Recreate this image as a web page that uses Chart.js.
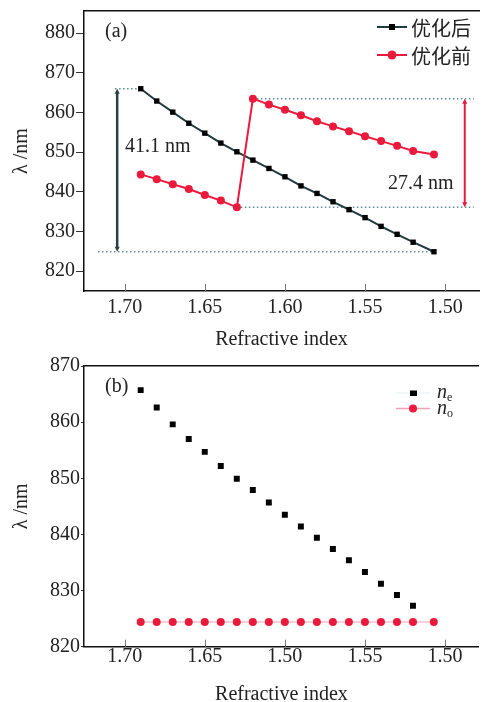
<!DOCTYPE html>
<html lang="zh">
<head>
<meta charset="UTF-8">
<title>Refractive index vs wavelength</title>
<script src="https://cdn.jsdelivr.net/npm/chart.js"></script>
<style>
  body { margin: 0; background: #fff; }
  canvas { position: absolute; left: 0; }
</style>
</head>
<body>
<canvas id="chartA" width="483" height="355" style="top:0"></canvas>
<canvas id="chartB" width="483" height="347" style="top:355px"></canvas>
<script>
// ---- data ----
// panel (a)
const indexA = [1.69, 1.68, 1.67, 1.66, 1.65, 1.64, 1.63, 1.62, 1.61, 1.60, 1.59, 1.58, 1.57, 1.56, 1.55, 1.54, 1.53, 1.52, 1.507];
const afterOpt = [866.0, 862.9, 860.1, 857.3, 854.8, 852.3, 850.1, 848.0, 845.9, 843.8, 841.5, 839.6, 837.5, 835.5, 833.5, 831.3, 829.3, 827.3, 824.9];
const beforeOpt = [844.4, 843.2, 841.9, 840.7, 839.2, 837.8, 836.1, 863.5, 862.0, 860.7, 859.3, 857.8, 856.5, 855.3, 854.0, 852.8, 851.6, 850.3, 849.4];
// panel (b)
const indexE = [1.69, 1.68, 1.67, 1.66, 1.65, 1.64, 1.63, 1.62, 1.61, 1.60, 1.59, 1.58, 1.57, 1.56, 1.55, 1.54, 1.53, 1.52];
const nE = [865.7, 862.6, 859.6, 857.0, 854.7, 852.2, 849.9, 847.9, 845.7, 843.5, 841.4, 839.4, 837.4, 835.4, 833.3, 831.2, 829.2, 827.3];
const indexO = [1.69, 1.68, 1.67, 1.66, 1.65, 1.64, 1.63, 1.62, 1.61, 1.60, 1.59, 1.58, 1.57, 1.56, 1.55, 1.54, 1.53, 1.52, 1.507];
const nO = [824.4, 824.4, 824.4, 824.4, 824.4, 824.4, 824.4, 824.4, 824.4, 824.4, 824.4, 824.4, 824.4, 824.4, 824.4, 824.4, 824.4, 824.4, 824.4];
// ticks
const xTicks = [1.70, 1.65, 1.60, 1.55, 1.50];
const xLabelsA = ['1.70', '1.65', '1.60', '1.55', '1.50'];
const xLabelsB = ['1.70', '1.65', '1.50', '1.55', '1.50'];
const yTicksA = [820, 830, 840, 850, 860, 870, 880];
const yTicksB = [820, 830, 840, 850, 860, 870];

const SERIF = '"Liberation Serif", "Times New Roman", serif';
const CJK = '"Noto Sans CJK SC", sans-serif';
const BLACK_LINE = '#1f3b3d';
const RED = '#ea1a3c';
const DOTS = '#5b8d92';

const pts = (xs, ys) => xs.map((x, i) => ({ x: x, y: ys[i] }));

// inward tick marks on the x axis
const innerTicks = {
  id: 'innerTicks',
  afterDatasetsDraw(chart) {
    const { ctx, chartArea } = chart;
    const sx = chart.scales.x;
    ctx.save();
    ctx.strokeStyle = '#777';
    ctx.lineWidth = 1;
    sx.ticks.forEach(t => {
      const px = Math.round(sx.getPixelForValue(t.value)) + 0.5;
      ctx.beginPath();
      ctx.moveTo(px, chartArea.bottom);
      ctx.lineTo(px, chartArea.bottom - 7);
      ctx.stroke();
    });
    ctx.restore();
  }
};

function arrow(ctx, x, y1, y2, color, width) {
  ctx.strokeStyle = color;
  ctx.fillStyle = color;
  ctx.lineWidth = width;
  ctx.setLineDash([]);
  ctx.beginPath();
  ctx.moveTo(x, y1 + 3);
  ctx.lineTo(x, y2 - 3);
  ctx.stroke();
  [[y1, 1], [y2, -1]].forEach(([y, d]) => {
    ctx.beginPath();
    ctx.moveTo(x, y);
    ctx.lineTo(x - 2.5, y + d * 5);
    ctx.lineTo(x + 2.5, y + d * 5);
    ctx.closePath();
    ctx.fill();
  });
}

function dotted(ctx, x1, x2, y) {
  ctx.strokeStyle = DOTS;
  ctx.lineWidth = 1.5;
  ctx.setLineDash([1.5, 2.5]);
  ctx.beginPath();
  ctx.moveTo(x1, y);
  ctx.lineTo(x2, y);
  ctx.stroke();
}

// shift markers and labels of panel (a)
const shiftMarks = {
  id: 'shiftMarks',
  beforeDatasetsDraw(chart) {
    const { ctx } = chart;
    const sx = chart.scales.x, sy = chart.scales.y;
    const bTop = Math.max(...afterOpt), bLow = Math.min(...afterOpt);
    const rTop = Math.max(...beforeOpt), rLow = Math.min(...beforeOpt);
    const rTopX = indexA[beforeOpt.indexOf(rTop)], rLowX = indexA[beforeOpt.indexOf(rLow)];
    ctx.save();
    dotted(ctx, sx.getPixelForValue(1.706), sx.getPixelForValue(indexA[0]), sy.getPixelForValue(bTop));
    dotted(ctx, sx.getPixelForValue(1.7167), sx.getPixelForValue(indexA[indexA.length - 1]), sy.getPixelForValue(bLow));
    dotted(ctx, sx.getPixelForValue(rTopX), sx.getPixelForValue(1.4822), sy.getPixelForValue(rTop));
    dotted(ctx, sx.getPixelForValue(rLowX), sx.getPixelForValue(1.4822), sy.getPixelForValue(rLow));
    arrow(ctx, sx.getPixelForValue(1.7047), sy.getPixelForValue(bTop), sy.getPixelForValue(bLow), '#2a3f42', 2.5);
    arrow(ctx, sx.getPixelForValue(1.4878), sy.getPixelForValue(rTop), sy.getPixelForValue(rLow), RED, 2);
    ctx.fillStyle = '#222';
    ctx.font = '20px ' + SERIF;
    ctx.textBaseline = 'middle';
    ctx.textAlign = 'left';
    ctx.fillText('41.1 nm', 125, 147);
    ctx.fillText('27.4 nm', 388, 184);
    ctx.fillText('(a)', 105, 32);
    ctx.restore();
  }
};

// legend with line + marker, panel (a)
const legendA = {
  id: 'legendA',
  afterDraw(chart) {
    const { ctx } = chart;
    ctx.save();
    chart.data.datasets.forEach((ds, i) => {
      const y = 27 + i * 28;
      ctx.strokeStyle = ds.borderColor;
      ctx.lineWidth = 2;
      ctx.beginPath();
      ctx.moveTo(377, y);
      ctx.lineTo(407, y);
      ctx.stroke();
      ctx.fillStyle = ds.pointBackgroundColor;
      if (ds.pointStyle === 'rect') ctx.fillRect(389, y - 3, 6, 6);
      else { ctx.beginPath(); ctx.arc(392, y, 4.5, 0, Math.PI * 2); ctx.fill(); }
      ctx.fillStyle = '#222';
      ctx.font = '20px ' + CJK;
      ctx.textBaseline = 'middle';
      ctx.fillText(ds.label, 411, y + 1);
    });
    ctx.restore();
  }
};

// legend for panel (b)
const legendB = {
  id: 'legendB',
  afterDraw(chart) {
    const { ctx } = chart;
    ctx.save();
    chart.data.datasets.forEach((ds, i) => {
      const y = 38 + i * 15.5;
      ctx.strokeStyle = i === 0 ? '#eef6f7' : ds.borderColor;
      ctx.lineWidth = 1.5;
      ctx.beginPath();
      ctx.moveTo(396, y);
      ctx.lineTo(430, y);
      ctx.stroke();
      ctx.fillStyle = ds.pointBackgroundColor;
      if (ds.pointStyle === 'rect') ctx.fillRect(410, y - 2.5, 7, 5.5);
      else { ctx.beginPath(); ctx.arc(413, y, 4, 0, Math.PI * 2); ctx.fill(); }
      ctx.fillStyle = '#222';
      ctx.textBaseline = 'alphabetic';
      ctx.font = 'italic 20px ' + SERIF;
      ctx.fillText('n', 437, y + 5);
      ctx.font = '12px ' + SERIF;
      ctx.fillText(ds.label, 447, y + 8);
    });
    ctx.fillStyle = '#222';
    ctx.font = '20px ' + SERIF;
    ctx.textBaseline = 'middle';
    ctx.fillText('(b)', 105, 32);
    ctx.restore();
  }
};

function axes(xMin, xMax, yMin, yMax, yTicks, xLabels, yTickLen, xLabelPad, xTitlePad) {
  return {
    x: {
      type: 'linear', reverse: true, min: xMin, max: xMax,
      afterBuildTicks: s => { s.ticks = xTicks.map(v => ({ value: v })); },
      afterFit: s => { s.height = s.chart.height - (s.chart.canvas.id === 'chartB' ? 291.7 : 291); },
      grid: { display: false },
      border: { color: '#111', width: 1.5 },
      ticks: { font: { family: SERIF, size: 20, lineHeight: 1 }, color: '#222', padding: xLabelPad, maxRotation: 0,
               callback: (v, i) => xLabels[i] },
      title: { display: true, text: 'Refractive index', color: '#222',
               font: { family: SERIF, size: 20, lineHeight: 1 }, padding: { top: 0, bottom: xTitlePad } }
    },
    x2: {
      type: 'linear', position: 'top', display: true,
      afterFit: s => { s.height = 0; },
      grid: { display: false }, ticks: { display: false },
      border: { color: '#111', width: 1.5 }
    },
    y: {
      min: yMin, max: yMax,
      afterBuildTicks: s => { s.ticks = yTicks.map(v => ({ value: v })); },
      afterFit: s => { s.width = 84; },
      grid: { drawOnChartArea: false, drawTicks: true, tickLength: yTickLen, color: '#333', lineWidth: 1 },
      border: { color: '#111', width: 1.5 },
      ticks: { font: { family: SERIF, size: 20, lineHeight: 1 }, color: '#222', padding: 1,
               callback: v => String(v) },
      title: { display: true, text: 'λ /nm', color: '#222',
               font: { family: SERIF, size: 20, lineHeight: 1 }, padding: { top: 12, bottom: 0 } }
    }
  };
}

const chartA = new Chart(document.getElementById('chartA'), {
  type: 'line',
  data: {
    datasets: [
      { label: '优化后', data: pts(indexA, afterOpt), order: 2,
        borderColor: BLACK_LINE, borderWidth: 2, pointStyle: 'rect', pointRadius: 3.8,
        pointBackgroundColor: '#000', pointBorderColor: '#000', pointBorderWidth: 0 },
      { label: '优化前', data: pts(indexA, beforeOpt), order: 1,
        borderColor: RED, borderWidth: 2, pointStyle: 'circle', pointRadius: 4,
        pointBackgroundColor: RED, pointBorderColor: RED, pointBorderWidth: 0 }
    ]
  },
  options: {
    responsive: false, animation: false,
    layout: { padding: { top: 10, right: 1, left: 0, bottom: 0 } },
    plugins: { legend: { display: false }, tooltip: { enabled: false } },
    scales: axes(1.4789, 1.7254, 815, 885.6, yTicksA, xLabelsA, 8, -1, 5)
  },
  plugins: [shiftMarks, innerTicks, legendA]
});

const chartB = new Chart(document.getElementById('chartB'), {
  type: 'line',
  data: {
    datasets: [
      { label: 'e', data: pts(indexE, nE), showLine: false,
        pointStyle: 'rect', pointRadius: 4.2,
        pointBackgroundColor: '#000', pointBorderColor: '#000', pointBorderWidth: 0 },
      { label: 'o', data: pts(indexO, nO),
        borderColor: '#f2a2b2', borderWidth: 1, pointStyle: 'circle', pointRadius: 4,
        pointBackgroundColor: RED, pointBorderColor: RED, pointBorderWidth: 0 }
    ]
  },
  options: {
    responsive: false, animation: false,
    layout: { padding: { top: 11, right: 1, left: 0, bottom: 0 } },
    plugins: { legend: { display: false }, tooltip: { enabled: false } },
    scales: axes(1.4789, 1.7254, 820, 870, yTicksB, xLabelsB, 3, -8, -3)
  },
  plugins: [innerTicks, legendB]
});
</script>
</body>
</html>
